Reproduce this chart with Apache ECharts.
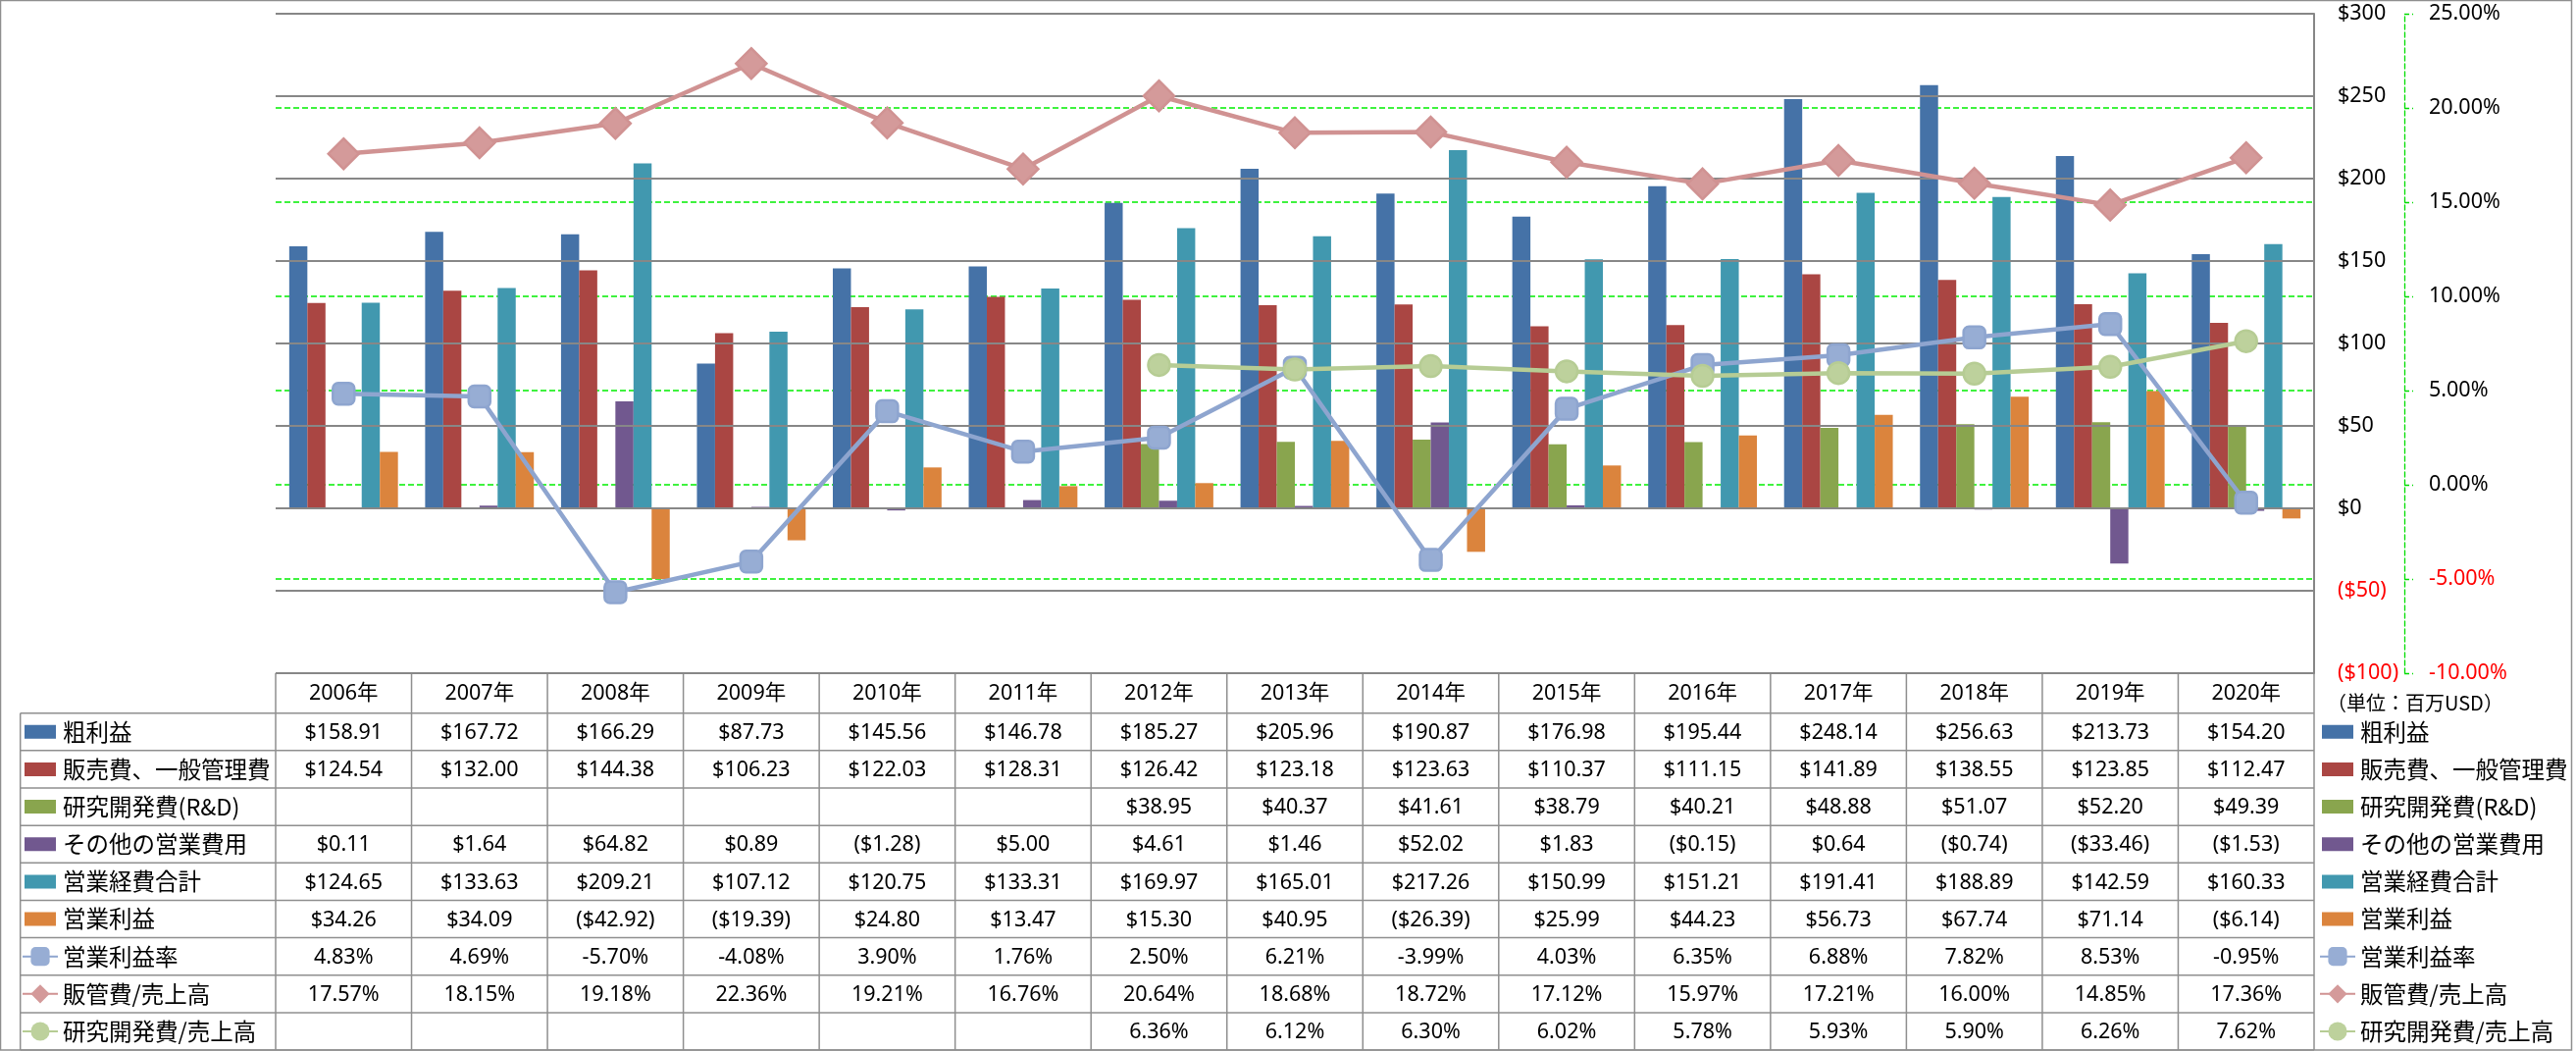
<!DOCTYPE html>
<html><head><meta charset="utf-8">
<script src="https://cdn.jsdelivr.net/npm/echarts@6/dist/echarts.min.js"></script>
<style>html,body{margin:0;padding:0;background:#fff}#c{width:2626px;height:1071px}</style>
</head><body><div id="c"></div>
<script>
// ---------- data ----------
const years = ['2006年','2007年','2008年','2009年','2010年','2011年','2012年','2013年','2014年','2015年','2016年','2017年','2018年','2019年','2020年'];
const grossProfit = [158.91,167.72,166.29,87.73,145.56,146.78,185.27,205.96,190.87,176.98,195.44,248.14,256.63,213.73,154.20];
const sgaExpense = [124.54,132.00,144.38,106.23,122.03,128.31,126.42,123.18,123.63,110.37,111.15,141.89,138.55,123.85,112.47];
const rndExpense = [null,null,null,null,null,null,38.95,40.37,41.61,38.79,40.21,48.88,51.07,52.20,49.39];
const otherOpExpense = [0.11,1.64,64.82,0.89,-1.28,5.00,4.61,1.46,52.02,1.83,-0.15,0.64,-0.74,-33.46,-1.53];
const totalOpExpense = [124.65,133.63,209.21,107.12,120.75,133.31,169.97,165.01,217.26,150.99,151.21,191.41,188.89,142.59,160.33];
const opIncome = [34.26,34.09,-42.92,-19.39,24.80,13.47,15.30,40.95,-26.39,25.99,44.23,56.73,67.74,71.14,-6.14];
const opMarginPct = [4.83,4.69,-5.70,-4.08,3.90,1.76,2.50,6.21,-3.99,4.03,6.35,6.88,7.82,8.53,-0.95];
const sgaRatioPct = [17.57,18.15,19.18,22.36,19.21,16.76,20.64,18.68,18.72,17.12,15.97,17.21,16.00,14.85,17.36];
const rndRatioPct = [null,null,null,null,null,null,6.36,6.12,6.30,6.02,5.78,5.93,5.90,6.26,7.62];

const barNames = ['粗利益','販売費、一般管理費','研究開発費(R&D)','その他の営業費用','営業経費合計','営業利益'];
const lineNames = ['営業利益率','販管費/売上高','研究開発費/売上高'];
const dollarTicks = {min:-100, max:300, step:50};
const pctTicks = {min:-10, max:25, step:5};
const unitLabel = '（単位：百万USD）';

// ---------- styling ----------
const barColors = ['#4572A7','#AA4643','#89A54E','#71588F','#4198AF','#DB843D'];
const lineColors = ['#8EA5CF','#D09292','#B6CC94'];
const lineFill = ['#97ADD4','#D49A9A','#BDD19C'];
const lineSymbols = ['roundRect','diamond','circle'];
const lineSymbolSizes = [22,31,22];
const NUM_FONT = '"Noto Sans", sans-serif';
const JP_FONT = '"Noto Sans CJK JP", "Noto Sans", sans-serif';
const GRID = {left:281, right:267, top:14, bottom:385};
const HEADER_H = 40.7, ROW_H = 38.15, LABEL_COL_LEFT = 20.7;

const barData = [grossProfit, sgaExpense, rndExpense, otherOpExpense, totalOpExpense, opIncome];
const lineData = [opMarginPct, sgaRatioPct, rndRatioPct];

function fmtDollar(v){ if (v==null) return ''; return v<0 ? '($'+(-v).toFixed(2)+')' : '$'+v.toFixed(2); }
function fmtPct(v){ if (v==null) return ''; return v.toFixed(2)+'%'; }

const chart = echarts.init(document.getElementById('c'), null, {renderer:'canvas'});

const barIcon = 'path://M0,0L0.01,0M2,5H34V19H2ZM36,24L35.99,24';
const legendData = barNames.map(n => ({name:n, icon:barIcon})).concat(lineNames.map(n => ({name:n})));
function legendCfg(left){
  return {
    orient:'vertical', left:left, top: 0, padding:0,
    itemWidth:36, itemHeight:24, itemGap: ROW_H-24,
    data: legendData,
    textStyle:{fontFamily:JP_FONT, fontSize:23.5, color:'#000', lineHeight:24},
    itemStyle:{borderWidth:0},
    selectedMode:true
  };
}

const series = [];
barNames.forEach((n,i)=>{
  series.push({
    name:n, type:'bar', yAxisIndex:0, data:barData[i],
    barGap:'0%', barCategoryGap:'20%',
    itemStyle:{color:barColors[i]}, z:2
  });
});
lineNames.forEach((n,i)=>{
  series.push({
    name:n, type:'line', yAxisIndex:1, data:lineData[i],
    symbol:lineSymbols[i], symbolSize:lineSymbolSizes[i], showSymbol:true,
    lineStyle:{color:lineColors[i], width:4.5},
    itemStyle:{color:lineFill[i], borderColor:lineColors[i], borderWidth:2.5},
    z:5
  });
});

const option = {
  animation:false,
  backgroundColor:'#fff',
  grid:{left:GRID.left, right:GRID.right, top:GRID.top, bottom:GRID.bottom, containLabel:false, show:false},
  legend:[legendCfg(22), legendCfg(2364)],
  xAxis:{type:'category', data:years, axisLabel:{show:false}, axisTick:{show:false}, axisLine:{show:false, onZero:false}, splitLine:{show:false}, splitArea:{show:false}},
  yAxis:[
    {type:'value', position:'right', min:dollarTicks.min, max:dollarTicks.max, interval:dollarTicks.step,
     axisLine:{show:true, onZero:false, lineStyle:{color:'#878787', width:2}}, axisTick:{show:false},
     splitLine:{show:true, lineStyle:{color:'#878787', width:2}}, z:3,
     axisLabel:{margin:24, fontFamily:NUM_FONT, fontSize:21.5, color:'#000',
       formatter:v => v<0 ? '{n|($'+(-v)+')}' : '$'+v,
       rich:{n:{color:'#ff0000', fontFamily:NUM_FONT, fontSize:21.5}}}
    },
    {type:'value', position:'right', offset:92, min:pctTicks.min, max:pctTicks.max, interval:pctTicks.step,
     axisLine:{show:true, onZero:false, lineStyle:{color:'#00dd00', width:1.3, type:[5,3]}},
     axisTick:{show:true, length:9, lineStyle:{color:'#00dd00', width:1.3, type:[5,3]}},
     splitLine:{show:true, lineStyle:{color:'#00ee00', width:1.5, type:[6,3]}}, z:1,
     axisLabel:{margin:25, fontFamily:NUM_FONT, fontSize:21.5, color:'#000',
       formatter:v => v<0 ? '{n|'+v.toFixed(2)+'%}' : v.toFixed(2)+'%',
       rich:{n:{color:'#ff0000', fontFamily:NUM_FONT, fontSize:21.5}}}
    }
  ],
  series:series
};
chart.setOption(option);

// ---------- data table (drawn from the arrays) ----------
const tableTop = chart.convertToPixel({yAxisIndex:0}, dollarTicks.min);
const plotL = GRID.left, plotR = 2626 - GRID.right;
const colW = (plotR - plotL) / years.length;
const rowsTop = tableTop + HEADER_H;
const nRows = barNames.length + lineNames.length;
const els = [];
const lineStyle = {stroke:'#8f8f8f', lineWidth:1.5};
els.push({type:'line', shape:{x1:plotL, y1:tableTop, x2:plotR, y2:tableTop}, style:lineStyle, silent:true});
for (let r=0; r<=nRows; r++){
  const y = rowsTop + r*ROW_H;
  els.push({type:'line', shape:{x1:LABEL_COL_LEFT, y1:y, x2:plotR, y2:y}, style:lineStyle, silent:true});
}
const tableBottom = rowsTop + nRows*ROW_H;
for (let c=0; c<=years.length; c++){
  const x = plotL + c*colW;
  els.push({type:'line', shape:{x1:x, y1:tableTop, x2:x, y2:tableBottom}, style:lineStyle, silent:true});
}
els.push({type:'line', shape:{x1:LABEL_COL_LEFT, y1:rowsTop, x2:LABEL_COL_LEFT, y2:tableBottom}, style:lineStyle, silent:true});
years.forEach((yr,i)=>{
  const cx = chart.convertToPixel({xAxisIndex:0}, i);
  els.push({type:'text', x:cx, y:tableTop+HEADER_H/2+1, silent:true,
    style:{text:yr, fill:'#000', font:'21.5px "Noto Sans", "Noto Sans CJK JP", sans-serif', align:'center', verticalAlign:'middle'}});
});
const allRows = barData.map(d=>({d, f:fmtDollar})).concat(lineData.map(d=>({d, f:fmtPct})));
allRows.forEach((row,r)=>{
  const cy = rowsTop + (r+0.5)*ROW_H + 1;
  row.d.forEach((v,i)=>{
    const cx = chart.convertToPixel({xAxisIndex:0}, i);
    const t = row.f(v);
    if (!t) return;
    els.push({type:'text', x:cx, y:cy, silent:true,
      style:{text:t, fill:'#000', font:'21.5px '+NUM_FONT, align:'center', verticalAlign:'middle'}});
  });
});
els.push({type:'text', x:2372, y:716, silent:true,
  style:{text:unitLabel, fill:'#000', font:'20px '+JP_FONT, align:'left', verticalAlign:'middle'}});
els.push({type:'rect', shape:{x:0.5, y:0.5, width:2621, height:1069.5}, style:{fill:null, stroke:'#8f8f8f', lineWidth:1.5}, silent:true, z:-1});

const legTop = rowsTop + ROW_H/2 - 12;
chart.setOption({
  legend:[{top:legTop},{top:legTop}],
  graphic:{elements:els}
});
</script>
</body></html>
